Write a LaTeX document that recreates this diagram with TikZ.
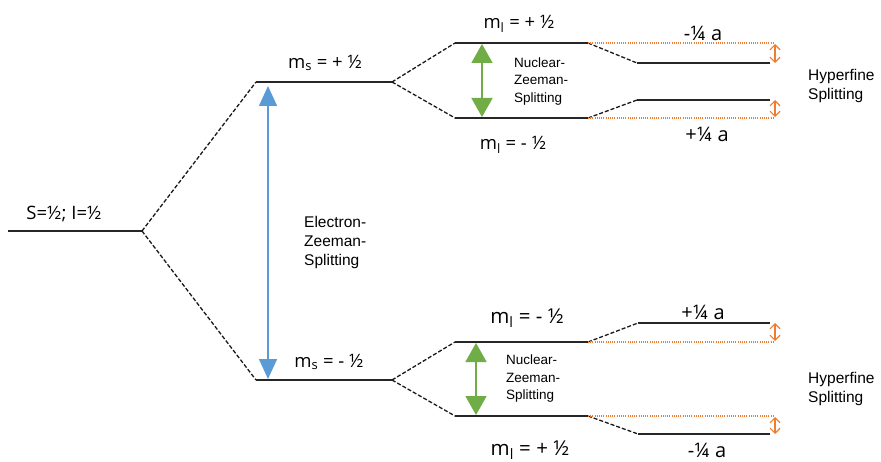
\documentclass[tikz,border=0pt]{standalone}
\usepackage{fontspec}
\setmainfont{Liberation Sans}
\newfontfamily\labelfont{Open Sans}
\usetikzlibrary{arrows.meta}
\definecolor{eblue}{RGB}{91,155,213}
\definecolor{ngreen}{RGB}{112,173,71}
\definecolor{hforange}{RGB}{237,125,49}
\begin{document}
\begin{tikzpicture}[x=1pt,y=-1pt,
  level/.style={line width=1.5pt, black!85},
  conn/.style={line width=1.3pt, black!90, dash pattern=on 4pt off 2pt},
  hfdot/.style={line width=1.2pt, hforange, dash pattern=on 1pt off 1.2pt},
  hfarrow/.style={line width=1.2pt, hforange, {Straight Barb[length=5pt,width=10pt]}-{Straight Barb[length=5pt,width=10pt]}},
  ezarrow/.style={line width=1.6pt, eblue, {Triangle[length=20pt,width=18pt]}-{Triangle[length=20pt,width=18pt]}},
  nzarrow/.style={line width=1.8pt, ngreen, {Triangle[length=19pt,width=21pt]}-{Triangle[length=19pt,width=21pt]}},
  biglabel/.style={font=\labelfont\fontsize{18.5}{21}\selectfont, inner sep=0pt},
  botlabel/.style={font=\labelfont\fontsize{20.5}{23}\selectfont, inner sep=0pt},
  alabel/.style={font=\labelfont\fontsize{20}{23}\selectfont, inner sep=0pt},
  desc/.style={font=\fontsize{15.5}{19}\selectfont, align=left, anchor=west, inner sep=0pt},
  smalldesc/.style={font=\fontsize{13.5}{17.5}\selectfont, align=left, anchor=west, inner sep=0pt}
]
\useasboundingbox (0,0) rectangle (881,462);
% coordinates
\coordinate (L0a) at (8,231);   \coordinate (L0b) at (142,231);
\coordinate (Ua) at (256,82);   \coordinate (Ub) at (392,82);
\coordinate (Da) at (256,380);  \coordinate (Db) at (392,380);
\coordinate (U1a) at (455,43);  \coordinate (U1b) at (588,43);
\coordinate (U2a) at (455,118); \coordinate (U2b) at (588,118);
\coordinate (U1c) at (637,63);  \coordinate (U1d) at (770,63);
\coordinate (U2c) at (637,100); \coordinate (U2d) at (770,100);
\coordinate (D1a) at (455,342); \coordinate (D1b) at (588,342);
\coordinate (D2a) at (455,416); \coordinate (D2b) at (588,416);
\coordinate (D1c) at (638,323); \coordinate (D1d) at (770,323);
\coordinate (D2c) at (638,434); \coordinate (D2d) at (770,434);
\coordinate (U1e) at (774,43);  \coordinate (U2e) at (774,118);
\coordinate (D1e) at (774,342); \coordinate (D2e) at (774,416);
\coordinate (hA1) at (775,44);  \coordinate (hA2) at (775,63);
\coordinate (hB1) at (775,100); \coordinate (hB2) at (775,117);
\coordinate (hC1) at (775,323); \coordinate (hC2) at (775,341);
\coordinate (hD1) at (775,417); \coordinate (hD2) at (775,434);
\coordinate (ezT) at (268,86);  \coordinate (ezB) at (268,379);
\coordinate (nzT1) at (482,44); \coordinate (nzB1) at (482,117);
\coordinate (nzT2) at (476,343);\coordinate (nzB2) at (476,415);
% levels
\draw[level] (L0a) -- (L0b);
\draw[level] (Ua) -- (Ub);
\draw[level] (Da) -- (Db);
\draw[level] (U1a) -- (U1b);
\draw[level] (U2a) -- (U2b);
\draw[level] (U1c) -- (U1d);
\draw[level] (U2c) -- (U2d);
\draw[level] (D1a) -- (D1b);
\draw[level] (D2a) -- (D2b);
\draw[level] (D1c) -- (D1d);
\draw[level] (D2c) -- (D2d);
% dashed connectors
\draw[conn] (L0b) -- (Ua);
\draw[conn] (L0b) -- (Da);
\draw[conn] (Ub) -- (U1a);
\draw[conn] (Ub) -- (U2a);
\draw[conn] (Db) -- (D1a);
\draw[conn] (Db) -- (D2a);
\draw[conn] (U1b) -- (U1c);
\draw[conn] (U2b) -- (U2c);
\draw[conn] (D1b) -- (D1c);
\draw[conn] (D2b) -- (D2c);
% orange dotted reference lines
\draw[hfdot] (U1b) -- (U1e);
\draw[hfdot] (U2b) -- (U2e);
\draw[hfdot] (D1b) -- (D1e);
\draw[hfdot] (D2b) -- (D2e);
% arrows
\draw[ezarrow] (ezT) -- (ezB);
\draw[nzarrow] (nzT1) -- (nzB1);
\draw[nzarrow] (nzT2) -- (nzB2);
\draw[hfarrow] (hA1) -- (hA2);
\draw[hfarrow] (hB1) -- (hB2);
\draw[hfarrow] (hC1) -- (hC2);
\draw[hfarrow] (hD1) -- (hD2);
% labels
\node[biglabel] (s0) at (64,214) {S=½; I=½};
\node[biglabel] (msp) at (325,63) {m\textsubscript{s} = + ½};
\node[biglabel] (msm) at (329,362) {m\textsubscript{s} = - ½};
\node[biglabel] (mi1) at (519,24) {m\textsubscript{l} = + ½};
\node[biglabel] (mi2) at (513,145) {m\textsubscript{l} = - ½};
\node[botlabel] (mi3) at (527,318) {m\textsubscript{l} = - ½};
\node[botlabel] (mi4) at (530,450) {m\textsubscript{l} = + ½};
\node[alabel] (a1) at (703,33) {-¼ a};
\node[alabel] (a2) at (707,134) {+¼ a};
\node[alabel] (a3) at (703,312) {+¼ a};
\node[alabel] (a4) at (707,450) {-¼ a};
\node[desc] (ez) at (304,242) {Electron-\\Zeeman-\\Splitting};
\node[smalldesc] (nz1) at (514,81.5) {Nuclear-\\Zeeman-\\Splitting};
\node[smalldesc] (nz2) at (506,379) {Nuclear-\\Zeeman-\\Splitting};
\node[desc] (hf1) at (808,86) {Hyperfine\\Splitting};
\node[desc] (hf2) at (808,388.5) {Hyperfine\\Splitting};
\end{tikzpicture}
\end{document}
